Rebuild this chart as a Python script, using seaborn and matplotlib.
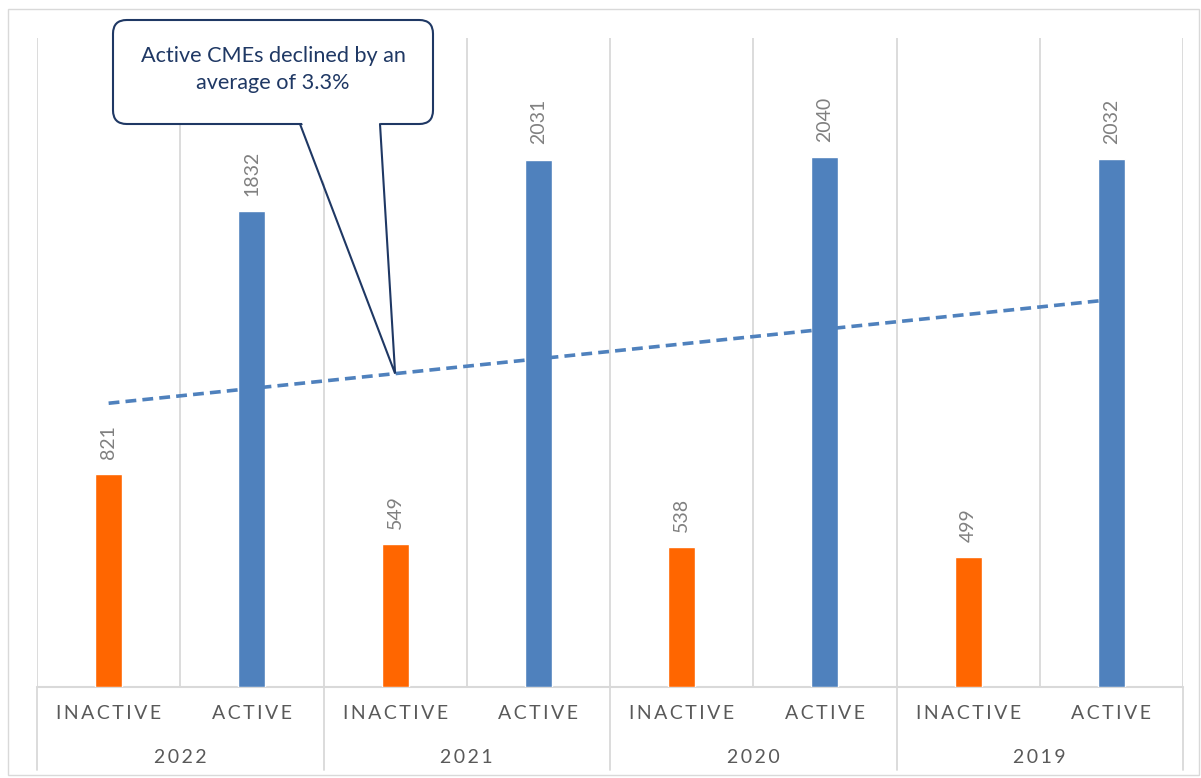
import numpy as np
import pandas as pd
import seaborn as sns
import matplotlib.pyplot as plt
import matplotlib.transforms as mtransforms
from matplotlib.patches import FancyBboxPatch, Polygon, Rectangle

years = ["2022", "2021", "2020", "2019"]
statuses = ["INACTIVE", "ACTIVE"]
inactive = [821, 549, 538, 499]
active = [1832, 2031, 2040, 2032]
callout_text = "Active CMEs declined by an\naverage of 3.3%"

rows = []
for yr, ina, act in zip(years, inactive, active):
    rows.append({"key": yr + " INACTIVE", "year": yr, "status": "INACTIVE", "count": ina})
    rows.append({"key": yr + " ACTIVE", "year": yr, "status": "ACTIVE", "count": act})
df = pd.DataFrame(rows)

sns.set_theme(style="white")
plt.rcParams["font.family"] = ["Lato", "DejaVu Sans"]

orange = "#ff6600"
blue = "#4f81bd"
grid = "#d9d9d9"
navy = "#1f3864"

fig = plt.figure(figsize=(12.01, 7.78), dpi=100)
ax = fig.add_axes([37 / 1201, 1 - 687 / 778, 1146 / 1201, 649 / 778])

sns.barplot(data=df, x="key", y="count", hue="status",
            palette={"INACTIVE": orange, "ACTIVE": blue},
            dodge=False, width=0.19, saturation=1, legend=False, ax=ax, zorder=2)

ax.set_xlim(-0.5, len(df) - 0.5)
ax.set_ylim(0, 2500)
ax.set_xticks([])
ax.set_yticks([])
ax.set_xlabel("")
ax.set_ylabel("")
for s in ax.spines.values():
    s.set_visible(False)

# category gridlines
for b in np.arange(-0.5, len(df)):
    ax.axvline(b, color=grid, lw=1.3, zorder=0)
ax.axhline(0, color=grid, lw=1.5, zorder=1, clip_on=False)

# data labels
for i, v in enumerate(df["count"]):
    ax.annotate(str(v), (i, v), xytext=(0, 11), textcoords="offset points", rotation=90,
                ha="center", va="bottom", fontsize=14, color="#808080")

# linear trendline over all bars
xs = np.arange(len(df))
coef = np.polyfit(xs, df["count"], 1)
tx = np.array([xs[0], xs[-1]])
ax.plot(tx, np.polyval(coef, tx), ls=(0, (3, 1.7)), color=blue, lw=2.6, zorder=4)

# multi-level category axis
trans = mtransforms.blended_transform_factory(ax.transData, ax.transAxes)
sp = "\u2009"
for i, row in df.iterrows():
    ax.text(i, -0.0416, sp.join(row["status"]), transform=trans, ha="center", va="center",
            fontsize=14, color="#595959")
for j, yr in enumerate(years):
    ax.text(2 * j + 0.5, -0.1079, sp.join(yr), transform=trans, ha="center", va="center",
            fontsize=14, color="#595959")
for b in np.arange(-0.5, len(df), 2):
    ax.plot([b, b], [0, -0.128], transform=trans, color=grid, lw=1.3, clip_on=False)

# callout
bx0, bx1 = 76 / 1146, 396 / 1146
by0, by1 = (687 - 124) / 649, (687 - 20) / 649
box = FancyBboxPatch((bx0, by0), bx1 - bx0, by1 - by0,
                     boxstyle="round,pad=0,rounding_size=0.012",
                     mutation_aspect=1146 / 649, transform=ax.transAxes,
                     facecolor="white", edgecolor=navy, lw=1.5, zorder=6, clip_on=False)
ax.add_patch(box)
tip = ax.transAxes.inverted().transform(ax.transData.transform((2, np.polyval(coef, 2))))
p1 = (263 / 1146, by0)
p2 = (343 / 1146, by0)
ax.add_patch(Polygon([(p1[0], by0 + 0.01), (p2[0], by0 + 0.01), tuple(tip)], closed=True,
                     transform=ax.transAxes, facecolor="white", edgecolor="none",
                     zorder=7, clip_on=False))
ax.plot([p1[0], tip[0], p2[0]], [p1[1], tip[1], p2[1]], transform=ax.transAxes,
        color=navy, lw=1.5, zorder=8, clip_on=False, solid_joinstyle="miter")
ax.text((bx0 + bx1) / 2, (687 - 69.5) / 649, callout_text, transform=ax.transAxes,
        ha="center", va="center", fontsize=15.6, color=navy, linespacing=1.4, zorder=9)

# chart border
fig.add_artist(Rectangle((8 / 1201, 3 / 778), 1191 / 1201, 766 / 778,
                         transform=fig.transFigure, fill=False, edgecolor=grid, lw=1))

fig.savefig("out.png", dpi=100)
